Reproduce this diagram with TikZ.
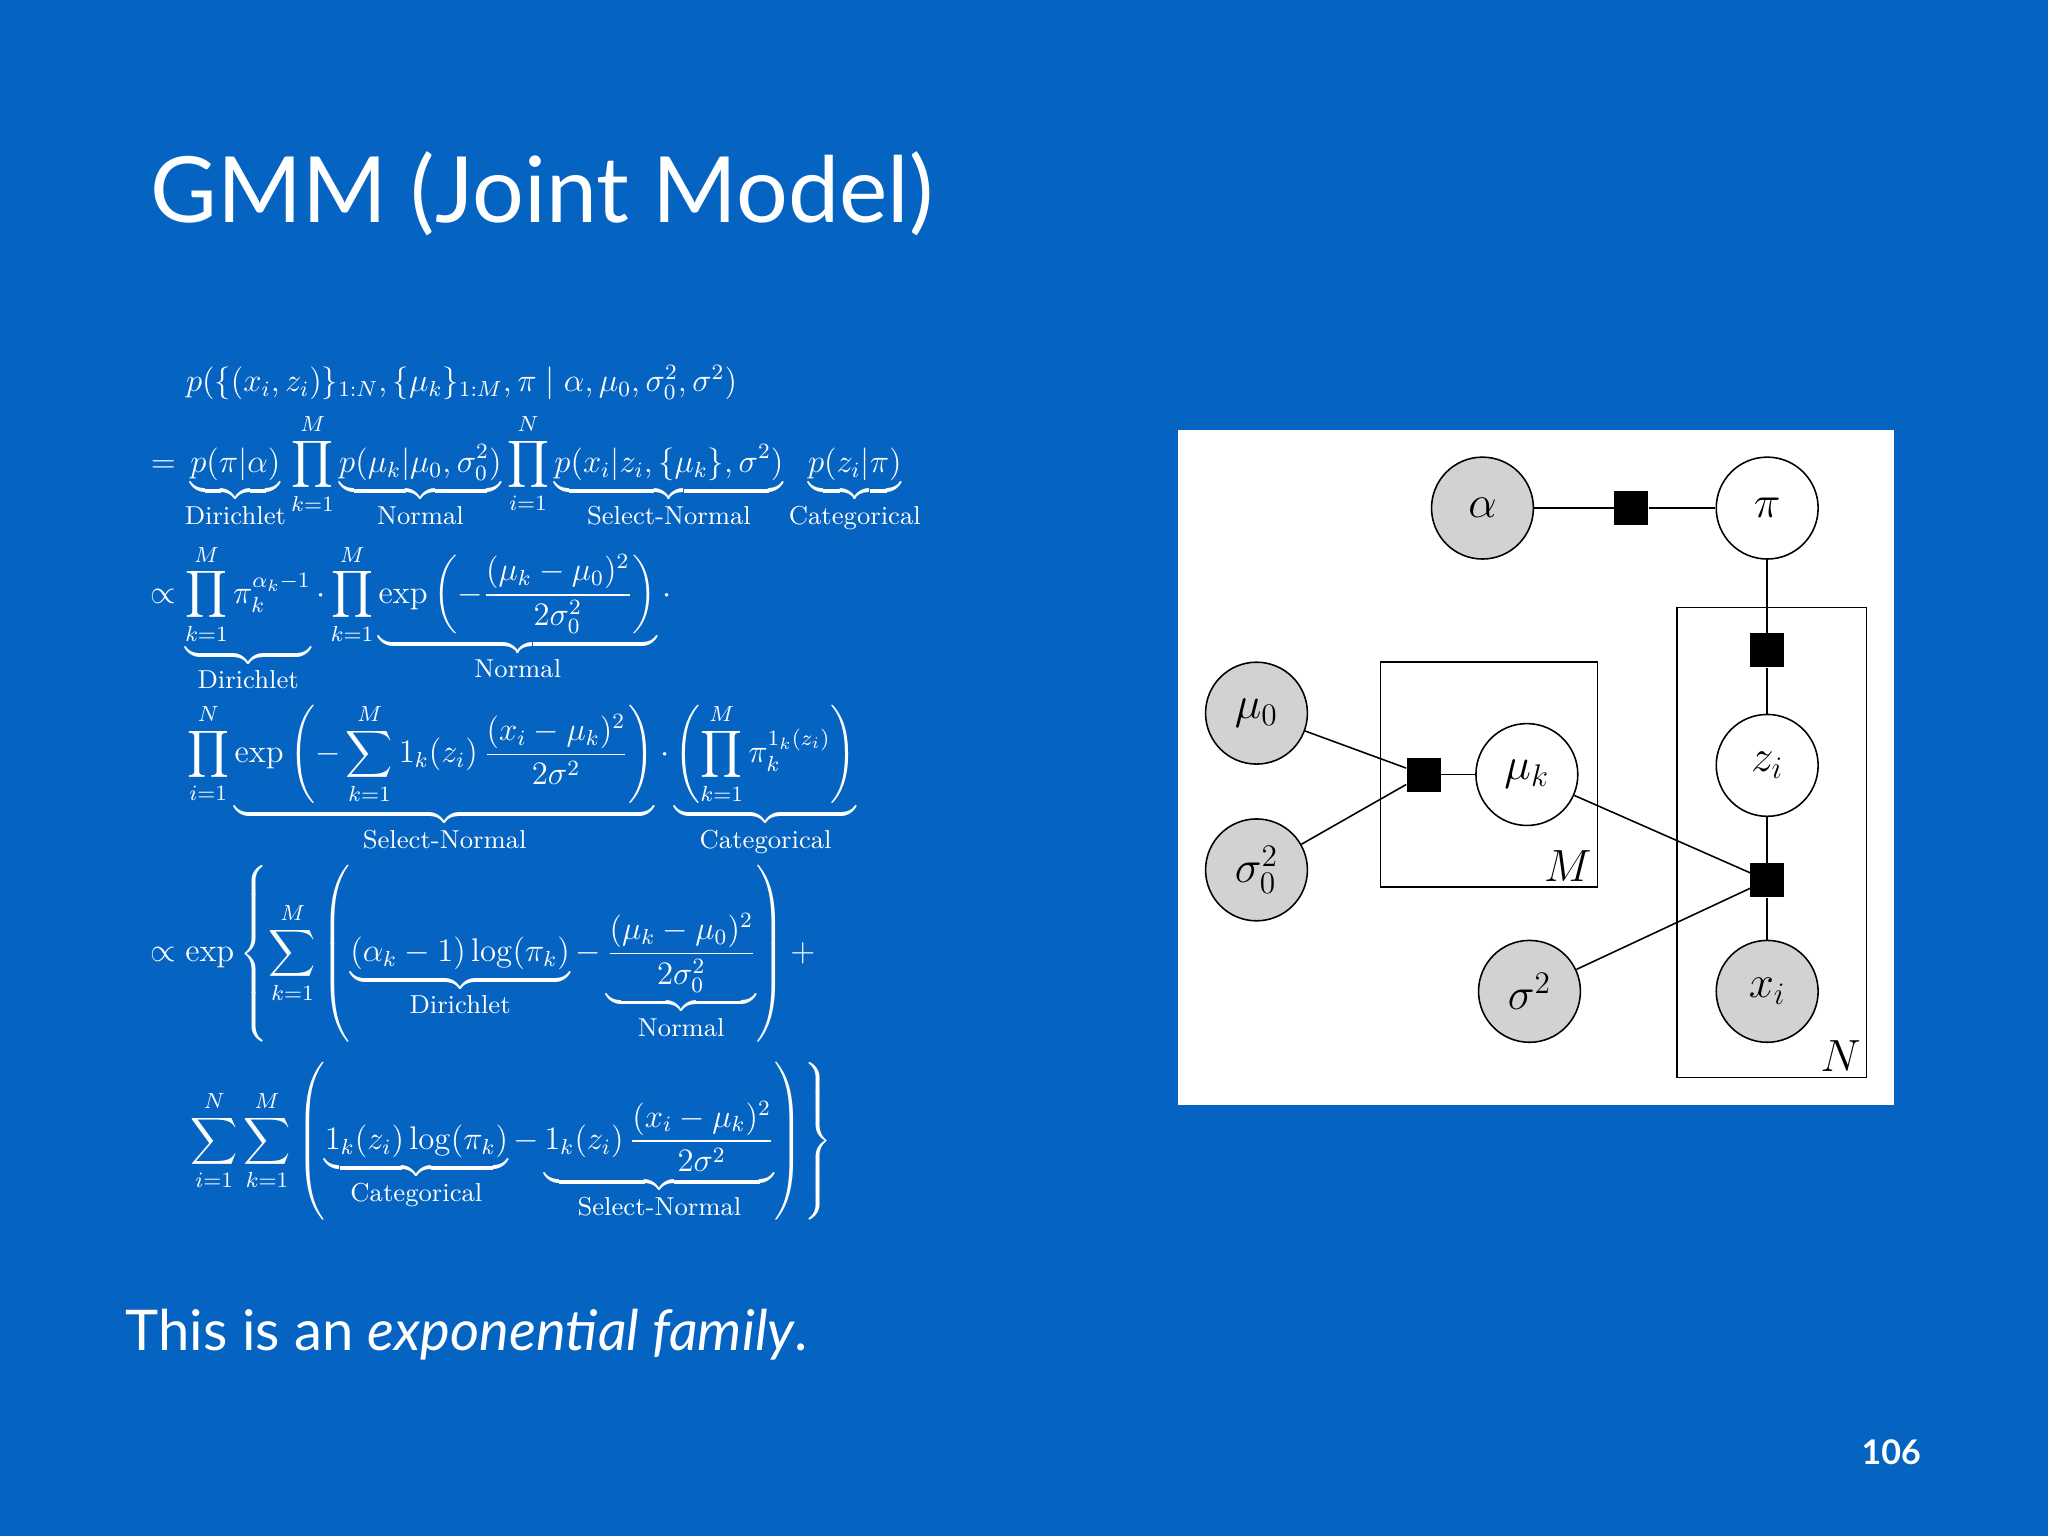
\documentclass[tikz,border=0pt]{standalone}
\usepackage{amsmath}
\usepackage[no-math]{fontspec}
\setmainfont{Lato}
\newfontfamily\lmr{Latin Modern Roman}
\usetikzlibrary{positioning}
\begin{document}
\begin{tikzpicture}[x=0.5pt,y=-0.5pt,
  var/.style={circle,draw=black,line width=0.6pt,minimum size=39pt,inner sep=0pt,font=\fontsize{18}{20}\selectfont},
  obs/.style={var,fill=gray!35},
  lat/.style={var,fill=white},
  fac/.style={rectangle,fill=black,minimum size=13pt,inner sep=0pt},
  edge/.style={draw=black,line width=0.6pt},
  plate/.style={draw=black,line width=0.6pt},
  eq/.style={anchor=west,text=white,inner sep=0pt,font=\fontsize{12}{15}\selectfont,scale=1.045,transform shape},
]
\definecolor{bg}{HTML}{0563C1}
\fill[bg] (0,0) rectangle (1568,1176);
\useasboundingbox (0,0) rectangle (1568,1176);
\node[anchor=base west,text=white,font=\fontsize{35}{40}\selectfont,inner sep=0pt] (title) at (115,170) {GMM (Joint Model)};
\node[anchor=base west,text=white,font=\fontsize{21.5}{26}\selectfont,inner sep=0pt] (foot) at (96,1034) {This is an \textit{exponential family}.};
\node[anchor=base east,text=white,font=\fontsize{13}{15}\selectfont\bfseries,inner sep=0pt] (pg) at (1471,1121) {106};

\newcommand{\lbl}[1]{\mbox{\fontsize{9.5}{11}\selectfont\lmr #1}}
\node[eq] (l1) at (142,293) {$p(\{(x_i,z_i)\}_{1:N},\{\mu_k\}_{1:M},\pi\mid\alpha,\mu_0,\sigma_0^2,\sigma^2)$};
\node[eq,anchor=north west] (l2) at (115,316) {$\displaystyle =\underbrace{p(\pi|\alpha)}_{\lbl{Dirichlet}}\prod_{k=1}^M\underbrace{p(\mu_k|\mu_0,\sigma_0^2)}_{\lbl{Normal}}\prod_{i=1}^N\underbrace{p(x_i|z_i,\{\mu_k\},\sigma^2)}_{\lbl{Select-Normal}}\underbrace{p(z_i|\pi)}_{\lbl{Categorical}}$};
\node[eq,anchor=north west] (l3) at (115,416) {$\displaystyle \propto\underbrace{\prod_{k=1}^M\pi_k^{\alpha_k-1}}_{\lbl{Dirichlet}}\cdot\prod_{k=1}^M\underbrace{\exp\left(-\frac{(\mu_k-\mu_0)^2}{2\sigma_0^2}\right)}_{\lbl{Normal}}\cdot$};
\node[eq,anchor=north west] (l4) at (143,538) {$\displaystyle \prod_{i=1}^N\underbrace{\exp\left(-\sum_{k=1}^M 1_k(z_i)\,\frac{(x_i-\mu_k)^2}{2\sigma^2}\right)}_{\lbl{Select-Normal}}\cdot\underbrace{\left(\prod_{k=1}^M\pi_k^{1_k(z_i)}\right)}_{\lbl{Categorical}}$};
\node[eq,anchor=north west] (l5) at (115,662) {$\displaystyle \propto\exp\left\{\sum_{k=1}^M\left(\underbrace{(\alpha_k-1)\log(\pi_k)}_{\lbl{Dirichlet}}-\underbrace{\frac{(\mu_k-\mu_0)^2}{2\sigma_0^2}}_{\lbl{Normal}}\right)+\right.$};
\node[eq,anchor=north west] (l6) at (143,813) {$\displaystyle \left.\sum_{i=1}^N\sum_{k=1}^M\left(\underbrace{1_k(z_i)\log(\pi_k)}_{\lbl{Categorical}}-\underbrace{1_k(z_i)\,\frac{(x_i-\mu_k)^2}{2\sigma^2}}_{\lbl{Select-Normal}}\right)\right\}$};

\fill[white] (902,329) rectangle (1450,846);
\draw[plate] (1057,507) rectangle (1223,679);
\draw[plate] (1284,465) rectangle (1429,825);
\node[font=\fontsize{16}{18}\selectfont,anchor=south east,inner sep=2pt] (pM) at (1223,679) {$M$};
\node[font=\fontsize{16}{18}\selectfont,anchor=south east,inner sep=2pt] (pN) at (1429,825) {$N$};
\node[obs] (alpha) at (1135,389) {$\alpha$};
\node[fac] (f1) at (1249,389) {};
\node[lat] (pi) at (1353,389) {$\pi$};
\node[obs] (mu0) at (962,546) {$\mu_0$};
\node[obs] (s0) at (962,666) {$\sigma_0^2$};
\node[fac] (f2) at (1090,593) {};
\node[lat] (muk) at (1169,593) {$\mu_k$};
\node[fac] (f3) at (1353,498) {};
\node[lat] (zi) at (1353,586) {$z_i$};
\node[fac] (f4) at (1353,674) {};
\node[obs] (xi) at (1353,759) {$x_i$};
\node[obs] (s2) at (1171,759) {$\sigma^2$};
\draw[edge] (alpha)--(f1)--(pi);
\draw[edge] (pi)--(f3)--(zi)--(f4)--(xi);
\draw[edge] (mu0)--(f2); \draw[edge] (s0)--(f2); \draw[edge] (f2)--(muk);
\draw[edge] (muk)--(f4.center); \draw[edge] (s2)--(f4.center);
\end{tikzpicture}
\end{document}
